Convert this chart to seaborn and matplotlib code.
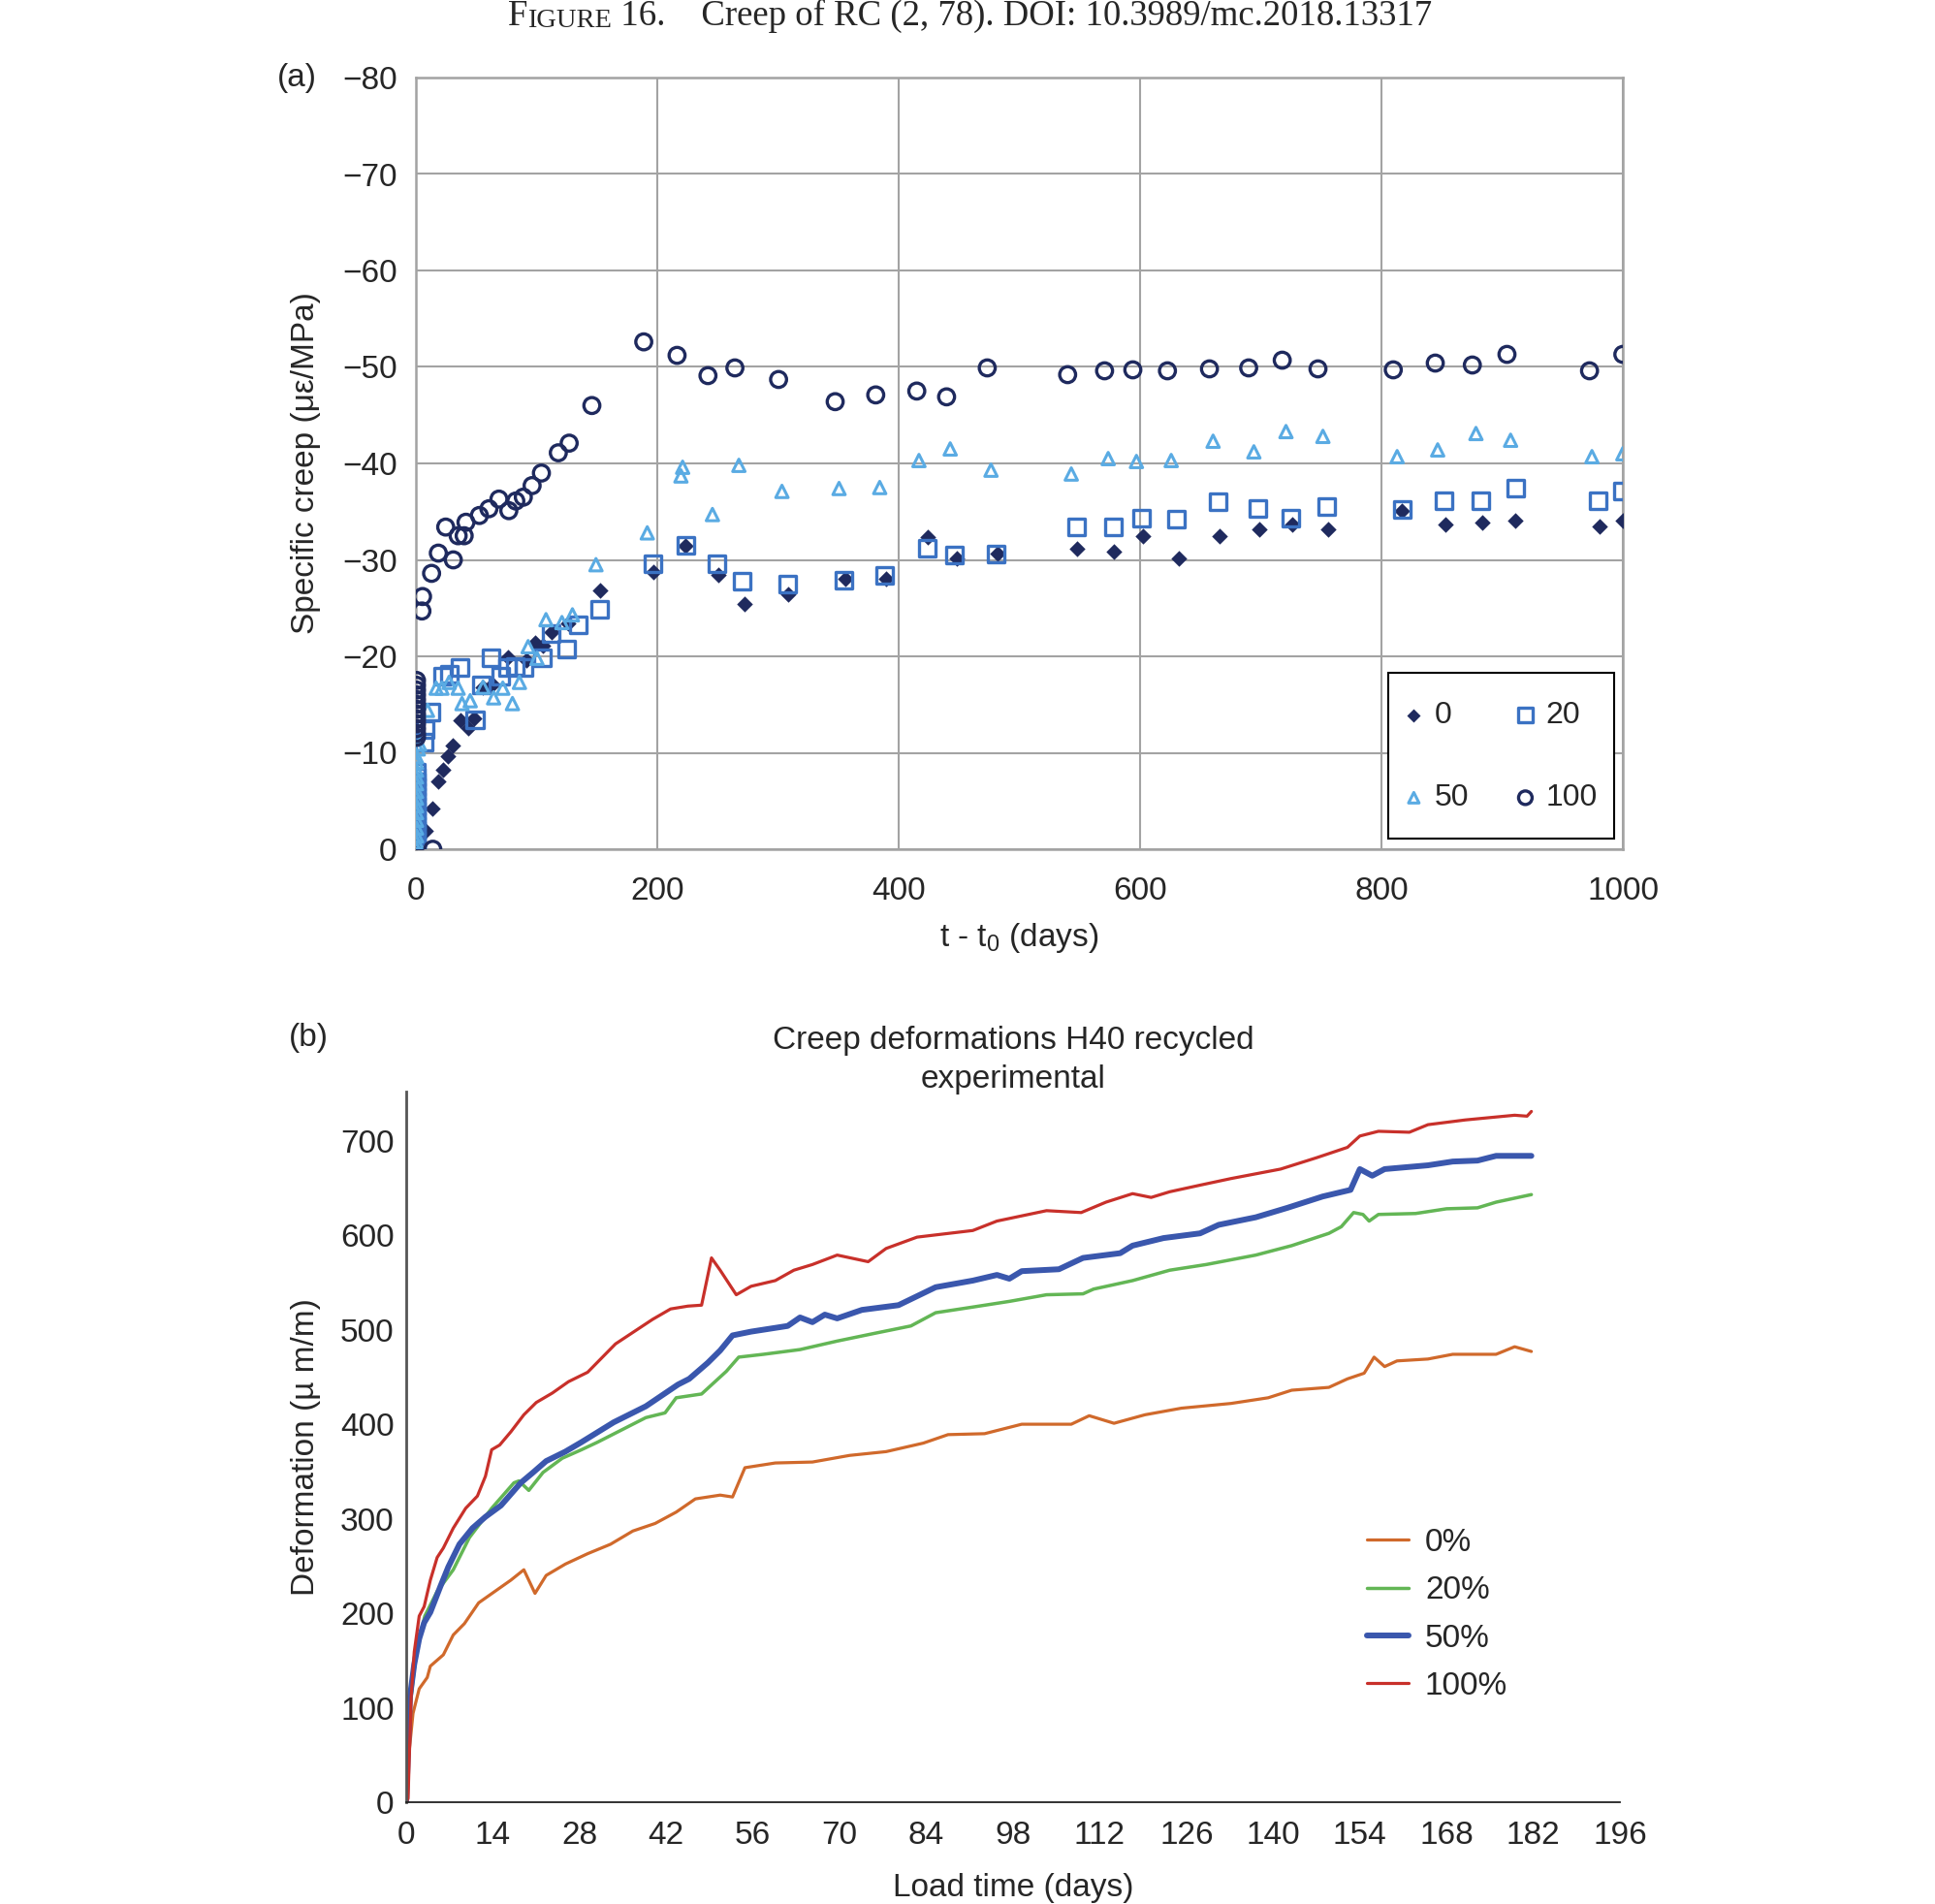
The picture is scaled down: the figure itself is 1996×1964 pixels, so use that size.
import numpy as np
import pandas as pd
import matplotlib
matplotlib.use("Agg")
import matplotlib.pyplot as plt
import seaborn as sns
from matplotlib.lines import Line2D
from matplotlib.patches import Rectangle

# ---- panel (a): specific creep scatter ----
t_0 = [0, 0.5, 1, 1.5, 2, 7.8, 13.4, 18.7, 22.2, 26.2, 30.2, 37.1, 43, 48.4, 55.6, 63.6, 76.2,
       91.7, 98.4, 105.6, 112.6, 126.5, 152.7, 196.6, 223.3, 250.8, 272, 308.8, 355.8, 389.6,
       424.3, 447.9, 481.6, 548, 578.7, 602.2, 632, 665.6, 698.4, 726, 755.6, 817, 852.8,
       883.4, 911, 980.6, 1000]
c_0 = [0, -0.6, -1.2, -1.8, -2.4, -1.9, -4.2, -7.0, -8.2, -9.6, -10.8, -13.4, -12.6, -13.6, -16.8,
       -17.1, -19.9, -19.6, -21.4, -21.1, -22.5, -23.4, -26.8, -28.7, -31.5, -28.4, -25.4, -26.4,
       -28.0, -28.0, -32.4, -30.2, -30.7, -31.2, -30.9, -32.5, -30.2, -32.5, -33.2, -33.7, -33.2,
       -35.1, -33.7, -33.9, -34.1, -33.5, -34.1]

t_20 = [0.5, 0.5, 0.5, 0.5, 0.5, 0.5, 0.5, 0.5, 0.5, 0.5, 0.5, 0.5, 0.5, 0.5, 0.5, 0.5, 0.5,
        7, 7.5, 12.3, 22.2, 27.5, 36.4, 49, 54.3, 62.3, 70.3, 75.6, 82.4, 89.8, 105, 112.3, 124.6,
        134.5, 151.9, 196, 223.3, 249.5, 270, 307.8, 354.8, 388.5, 423.3, 445.8, 480.6, 547,
        577.7, 601, 630, 664.6, 697.3, 725, 754.6, 817, 851.7, 882.4, 911, 979.5, 1000]
c_20 = [0, -0.5, -1.0, -1.5, -2.0, -2.5, -3.0, -3.5, -4.0, -4.5, -5.0, -5.5, -6.0, -6.5, -7.0, -7.5,
        -8.0, -11.1, -12.4, -14.2, -17.9, -18.1, -18.8, -13.4, -17.0, -19.8, -17.9, -18.8, -18.9,
        -18.8, -19.8, -22.4, -20.8, -23.3, -24.9, -29.6, -31.5, -29.6, -27.8, -27.5, -27.9, -28.4,
        -31.2, -30.5, -30.6, -33.4, -33.4, -34.3, -34.2, -36.0, -35.3, -34.3, -35.5, -35.2, -36.1,
        -36.1, -37.4, -36.1, -37.1]

t_50 = [0.5, 0.5, 0.5, 0.5, 0.5, 0.5, 0.5, 0.5, 0.5, 0.5, 0.5, 0.5, 0.5, 0.5,
        2, 3, 9.6, 16.8, 21.6, 27.5, 35, 38.2, 45, 55.6, 64.4, 72, 80, 85.8, 93, 100.3, 107.8, 121,
        129.7, 149.2, 191.7, 219.6, 221, 245.7, 267.6, 303.3, 350.6, 384.3, 416.8, 442.7, 476.5,
        543, 573.6, 597, 625.8, 660.5, 694.3, 720.9, 751.5, 813, 846.6, 878.3, 907, 974.4, 1000]
c_50 = [0, -0.7, -1.4, -2.2, -3.0, -3.8, -4.5, -5.3, -6.0, -6.8, -7.5, -8.2, -9.0, -9.6,
        -10.4, -10.9, -14.4, -16.7, -16.7, -17.3, -16.7, -15.1, -15.4, -16.8, -15.7, -16.7, -15.1,
        -17.3, -21.0, -19.8, -23.8, -23.5, -24.3, -29.5, -32.8, -38.7, -39.6, -34.7, -39.8, -37.1,
        -37.4, -37.5, -40.3, -41.5, -39.3, -38.9, -40.5, -40.2, -40.3, -42.3, -41.2, -43.3, -42.8,
        -40.7, -41.4, -43.1, -42.4, -40.7, -41.0]

t_100 = [0.5, 0.5, 0.5, 0.5, 0.5, 0.5, 0.5, 0.5, 0.5, 0.5, 0.5, 0.5, 0.5, 14,
         5, 5.5, 13, 18.6, 24.7, 31, 35, 40, 41.5, 52.6, 60.5, 68.8, 77, 82.8, 89, 96.3, 104, 118,
         127, 145.8, 188.8, 216.4, 242, 264.3, 300.5, 347.4, 381, 415, 439.7, 473.4, 540, 570.6,
         594, 622.7, 657.5, 690, 717.8, 747.4, 809.8, 844.6, 875.3, 904, 972.4, 1000]
c_100 = [-11.6, -12.0, -12.5, -13.0, -13.5, -14.0, -14.5, -15.0, -15.5, -16.0, -16.5, -17.0, -17.5, 0,
         -24.7, -26.2, -28.6, -30.7, -33.4, -30.0, -32.5, -32.5, -33.9, -34.6, -35.3, -36.3, -35.1,
         -36.1, -36.5, -37.7, -39.0, -41.1, -42.1, -46.0, -52.6, -51.2, -49.1, -49.9, -48.7, -46.4,
         -47.1, -47.5, -46.9, -49.9, -49.2, -49.6, -49.7, -49.6, -49.8, -49.9, -50.7, -49.8, -49.7,
         -50.4, -50.2, -51.3, -49.6, -51.3]

# ---- panel (b): creep deformation curves ----
d_0 = [0, 0.3, 1.1, 2.1, 3.4, 3.9, 6.0, 7.6, 9.4, 11.7, 14.3, 16.9, 19.0, 20.8, 22.6, 25.7, 29.3,
       33.0, 36.6, 40.2, 43.6, 46.7, 50.7, 52.7, 54.7, 59.6, 65.6, 71.6, 77.5, 83.5, 87.5, 93.4,
       99.4, 107.4, 110.3, 114.3, 119.3, 125.2, 133.2, 139.2, 143, 149, 152, 154.7, 156.3, 158,
       160, 165, 169, 176, 179, 181.7]
y_0 = [0, 42, 94, 120, 132, 144, 156, 177, 189, 211, 223, 235, 246, 221, 240, 252, 263, 273, 287,
       295, 307, 321, 325, 323, 354, 359, 360, 367, 371, 380, 389, 390, 400, 400, 409, 401, 410,
       417, 422, 428, 436, 439, 448, 454, 471, 461, 467, 469, 474, 474, 482, 477]

d_20 = [0, 0.6, 1.6, 3, 5, 7.6, 10.2, 13.8, 17.4, 18.2, 19.8, 22.1, 25.2, 28.3, 30.9, 34.5, 38.7,
        41.8, 43.6, 47.7, 51.7, 53.7, 57.7, 63.6, 69.6, 75.5, 81.5, 85.5, 91.5, 97.4, 103.4, 109.3,
        111, 117.3, 123.3, 129.2, 137.2, 143, 149, 151, 153, 154.5, 155.5, 157, 163, 168, 173, 176,
        181.7]
y_20 = [0, 100, 158, 197, 223, 246, 280, 311, 338, 340, 330, 349, 364, 373, 381, 393, 407, 412,
        428, 432, 456, 471, 474, 479, 488, 496, 504, 518, 524, 530, 537, 538, 543, 552, 563, 569,
        579, 589, 602, 609, 624, 622, 615, 622, 623, 628, 629, 635, 643]

d_50 = [0, 0.6, 1.3, 2.1, 2.9, 3.9, 5.5, 6.8, 8.6, 10.7, 12.8, 15.3, 18.5, 20.5, 22.6, 25.7, 28.3,
        33.5, 38.7, 43.9, 45.7, 48.7, 50.7, 52.7, 55.7, 61.6, 63.6, 65.6, 67.6, 69.6, 73.6, 79.5,
        85.5, 91.5, 95.4, 97.4, 99.4, 105.4, 109.3, 115.3, 117.3, 122.3, 128.2, 131.2, 137.2, 142.3,
        148, 152.5, 154, 156, 158, 165, 169, 173, 176, 181.7]
y_50 = [0, 111, 146, 173, 190, 201, 228, 249, 273, 290, 302, 314, 338, 349, 361, 371, 381, 402,
        419, 442, 448, 465, 478, 494, 498, 504, 513, 508, 516, 512, 521, 526, 545, 552, 558, 554,
        562, 564, 576, 581, 589, 597, 602, 611, 619, 629, 641, 648, 670, 663, 670, 674, 678, 679,
        684, 684]

d_100 = [0, 0.3, 0.8, 1.3, 2.1, 2.9, 3.9, 5.0, 6.0, 7.6, 9.6, 11.5, 12.8, 13.8, 15.1, 16.9, 19.0,
         21.0, 23.6, 26.2, 29.3, 33.8, 39.8, 42.7, 45.5, 47.7, 49.3, 50.7, 53.3, 55.7, 59.6, 62.6,
         65.6, 69.6, 74.6, 77.5, 82.5, 91.5, 95.4, 103.4, 109, 113, 117.3, 120.3, 123.3, 128.2,
         133.2, 141.2, 147, 152, 154, 157, 162, 165, 171, 179, 181, 181.7]
y_100 = [0, 4, 111, 159, 197, 207, 235, 259, 269, 290, 311, 324, 345, 373, 378, 392, 410, 423,
         433, 445, 455, 485, 511, 522, 525, 526, 576, 563, 537, 546, 552, 563, 569, 579, 572, 586,
         598, 605, 615, 626, 624, 635, 644, 640, 646, 653, 660, 670, 682, 693, 705, 710, 709, 717,
         722, 727, 726, 731]

mixes = ['0%', '20%', '50%', '100%']

sns.set_style("white")
plt.rcParams['font.family'] = ['Liberation Sans', 'DejaVu Sans']
plt.rcParams['mathtext.fontset'] = 'custom'
plt.rcParams['mathtext.rm'] = 'Liberation Sans'
plt.rcParams['mathtext.it'] = 'Liberation Sans'

W, H = 1996, 1964
FS = 24
fig = plt.figure(figsize=(W / 100, H / 100), dpi=100)

def px_axes(l, t, r, b):
    return fig.add_axes([l / W, 1 - b / H, (r - l) / W, (b - t) / H])

# ---------------- (a) ----------------
ax1 = px_axes(429, 80, 1674, 876)
navy = '#1f2a5e'
mid = '#3b72c3'
light = '#5aabe3'

sns.scatterplot(x=t_0, y=c_0, ax=ax1, marker='D', s=70, color=navy, edgecolor=navy,
                linewidth=0, label='0', zorder=3)
sns.scatterplot(x=t_20, y=c_20, ax=ax1, marker='s', s=150, color=mid, facecolor='none',
                edgecolor=mid, linewidth=2.4, label='20', zorder=3)
sns.scatterplot(x=t_50, y=c_50, ax=ax1, marker='^', s=85, color=light, facecolor='none',
                edgecolor=light, linewidth=2.2, label='50', zorder=3)
sns.scatterplot(x=t_100, y=c_100, ax=ax1, marker='o', s=140, color=navy, facecolor='none',
                edgecolor=navy, linewidth=2.4, label='100', zorder=3)

ax1.set_xlim(0, 1000)
ax1.set_ylim(0, -80)
ax1.set_xticks(range(0, 1001, 200))
ax1.set_yticks(range(0, -81, -10))
ax1.grid(True, color='#a3a3a3', linewidth=1.5)
ax1.set_axisbelow(True)
for sp in ax1.spines.values():
    sp.set_color('#a3a3a3')
    sp.set_linewidth(1.8)
ax1.tick_params(axis='both', length=0, labelsize=FS)
ax1.tick_params(axis='y', pad=14)
ax1.tick_params(axis='x', pad=20)
ax1.set_xlabel('t - t$_\\mathregular{0}$ (days)', fontsize=FS, labelpad=11)
ax1.set_ylabel('Specific creep (\u03bc\u03b5/MPa)', fontsize=FS, labelpad=16)

# legend box drawn as its own rectangle, legend itself frameless
box = Rectangle((1432 / W, 1 - 865 / H), (1665 - 1432) / W, (865 - 694) / H,
                transform=fig.transFigure, facecolor='white', edgecolor='black',
                linewidth=1.5, zorder=4)
ax1.add_patch(box)
h, l = ax1.get_legend_handles_labels()
order = [0, 2, 1, 3]
leg1 = ax1.legend([h[i] for i in order], [l[i] for i in order], ncol=2, loc='upper left',
                  bbox_to_anchor=(1452 / W, 1 - 723 / H), bbox_transform=fig.transFigure,
                  fontsize=23, frameon=False, markerscale=0.85, handlelength=0.4,
                  handletextpad=0.47, columnspacing=1.62, labelspacing=1.73, borderpad=0,
                  borderaxespad=0)
leg1.set_zorder(6)

fig.text(306 / W, 1 - 80 / H, '(a)', fontsize=FS, ha='center', va='center')

# ---------------- (b) ----------------
ax2 = px_axes(419, 1126, 1671, 1859)
curves = pd.concat([
    pd.DataFrame({'day': d_0, 'def': y_0, 'mix': '0%'}),
    pd.DataFrame({'day': d_20, 'def': y_20, 'mix': '20%'}),
    pd.DataFrame({'day': d_50, 'def': y_50, 'mix': '50%'}),
    pd.DataFrame({'day': d_100, 'def': y_100, 'mix': '100%'}),
])
pal = {'0%': '#d0692b', '20%': '#63b655', '50%': '#3a57ad', '100%': '#c8302a'}
widths = {'0%': 2.3, '20%': 2.5, '50%': 4.3, '100%': 2.3}
sns.lineplot(data=curves, x='day', y='def', hue='mix', palette=pal, estimator=None,
             size='mix', sizes=widths, ax=ax2, legend=False)

ax2.set_xlim(0, 196)
ax2.set_ylim(0, 752)
ax2.set_xticks(range(0, 197, 14))
ax2.set_yticks(range(0, 701, 100))
for side in ['top', 'right']:
    ax2.spines[side].set_visible(False)
ax2.spines['left'].set_color('#555555')
ax2.spines['left'].set_linewidth(2.0)
ax2.spines['bottom'].set_color('#222222')
ax2.spines['bottom'].set_linewidth(1.3)
ax2.tick_params(axis='both', length=5, width=1.8, color='#888888', labelsize=FS)
ax2.tick_params(axis='x', pad=9)
ax2.tick_params(axis='y', pad=4)
ax2.set_xlabel('Load time (days)', fontsize=FS, labelpad=16)
ax2.set_ylabel('Deformation (\u00b5 m/m)', fontsize=FS, labelpad=14)
ax2.set_title('Creep deformations H40 recycled\nexperimental', fontsize=FS, pad=3,
              linespacing=1.35)

handles2 = [Line2D([], [], color=pal[k], lw=widths[k]) for k in mixes]
ax2.legend(handles2, mixes, loc='upper left',
           bbox_to_anchor=(1410 / W, 1 - 1576 / H), bbox_transform=fig.transFigure,
           frameon=False, fontsize=FS, handlelength=1.3, handletextpad=0.5,
           labelspacing=0.55, borderaxespad=0, borderpad=0)

fig.text(318 / W, 1 - 1070 / H, '(b)', fontsize=FS, ha='center', va='center')

# ---------------- figure caption ----------------
serif = ['Liberation Serif', 'DejaVu Serif']
t1 = fig.text(524 / W, 1 - 34 / H, 'F', fontsize=26.5, family=serif, ha='left', va='bottom')
t2 = ax1.annotate('IGURE', xy=(1, 0), xycoords=t1, fontsize=20.5, family=serif,
                  ha='left', va='bottom')
ax1.annotate(' 16.    Creep of RC (2, 78). DOI: 10.3989/mc.2018.13317', xy=(1, 0),
             xycoords=t2, fontsize=26.5, family=serif, ha='left', va='bottom')

fig.savefig('out.png', dpi=100)
